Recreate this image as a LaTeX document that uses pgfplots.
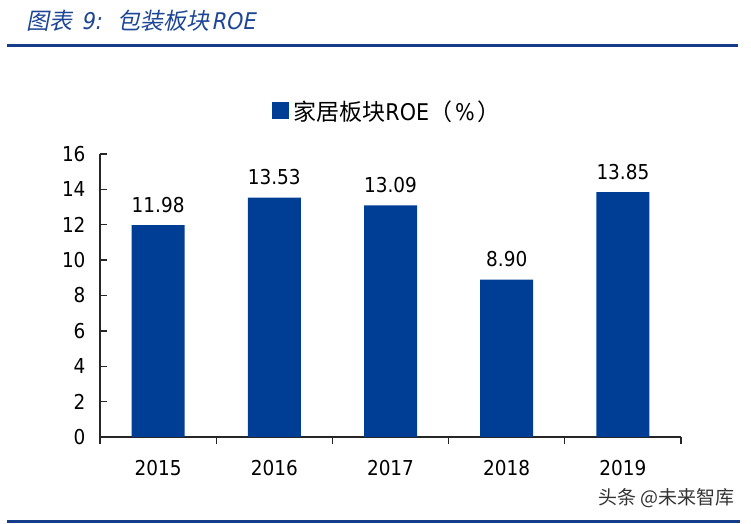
\documentclass[border=0pt]{standalone}
\usepackage{pgfplots}
\pgfplotsset{compat=1.18}
\usepackage{fontspec}
\setmainfont{DejaVu Sans}[FakeStretch=0.9]
\newfontfamily\cjk{Noto Sans CJK SC}
\newfontfamily\cjkit{Noto Sans CJK SC}[FakeSlant=0.2]
\newfontfamily\numit{DejaVu Sans}[FakeSlant=0.2,FakeStretch=0.9]
\definecolor{barcol}{RGB}{0,62,150}
\definecolor{linecol}{RGB}{22,60,140}
\definecolor{titlecol}{RGB}{30,70,150}
\begin{document}
\begin{tikzpicture}[x=1bp,y=1bp]
\path (0,0) rectangle (751,524);
\node[anchor=west,text=titlecol,inner sep=0] at (26,503) {\fontsize{23bp}{26bp}\selectfont\cjkit 图表\hspace{9bp}\numit 9:\hspace{16bp}\cjkit 包装板块\hspace{2bp}\numit ROE};
\draw[linecol,line width=2.2bp] (7,478.5) -- (738,478.5);
\draw[linecol,line width=3bp] (7,2.5) -- (740,2.5);
\begin{axis}[
  at={(100bp,87bp)}, anchor=south west,
  scale only axis, width=581bp, height=283bp,
  xmin=-0.5, xmax=4.5, ymin=0, ymax=16,
  /pgf/number format/assume math mode=true,
  ytick={0,2,...,16},
  xtick={0,1,2,3,4},
  xticklabels={2015,2016,2017,2018,2019},
  minor xtick={-0.5,0.5,1.5,2.5,3.5,4.5},
  major x tick style={draw=none},
  axis x line*=bottom, axis y line*=left,
  axis line style={-,line width=1.3bp,black!85},
  tick style={line width=1.3bp,black!85},
  tick align=inside,
  major tick length=7bp, minor tick length=7bp,
  ticklabel style={font=\fontsize{20.5bp}{24bp}\selectfont},
  yticklabel style={xshift=-11bp},
  xticklabel style={yshift=-13bp},
  ybar, bar width=53bp,
  nodes near coords,
  nodes near coords style={font=\fontsize{20.5bp}{24bp}\selectfont, anchor=south, yshift=9bp, /pgf/number format/.cd, fixed, fixed zerofill, precision=2, assume math mode=true},
  legend style={at={(0.495,1.152)}, anchor=center, draw=none, fill=none, font=\fontsize{23bp}{26bp}\selectfont},
  legend image code/.code={\fill[barcol] (0bp,-8.5bp) rectangle (17bp,8.5bp);},
  clip=false,
]
\addplot[fill=barcol, draw=none] coordinates {(0,11.98) (1,13.53) (2,13.09) (3,8.90) (4,13.85)};
\addlegendentry{\hspace{2bp}\cjk 家居板块\rmfamily ROE\cjk （\hspace{3bp}\rmfamily\%\hspace{3bp}\cjk ）}
\end{axis}
\node[anchor=east,text=black!80,inner sep=0] at (735,26) {\fontsize{19bp}{22bp}\selectfont\cjk 头条 @未来智库};
\end{tikzpicture}
\end{document}
